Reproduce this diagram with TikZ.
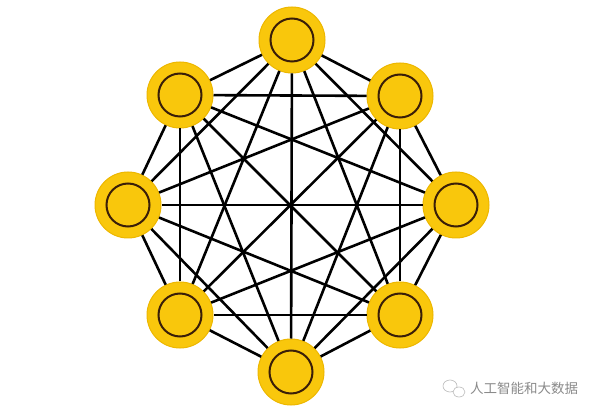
\documentclass[tikz,border=0pt]{standalone}
\usepackage{fontspec}
\newfontfamily\cjk{Noto Sans CJK SC}
\definecolor{gold}{HTML}{F9C70C}
\definecolor{goldedge}{HTML}{EDB700}
\definecolor{ringc}{HTML}{3A1E08}
\definecolor{wm}{HTML}{8A8A8A}
\begin{document}
\begin{tikzpicture}[x=1pt,y=-1pt,
  vertex/.style={circle, minimum size=66pt, inner sep=0pt, fill=gold, draw=goldedge, line width=1pt,
    path picture={\draw[ringc, line width=2pt] (path picture bounding box.center) circle (21.5pt);}},
  edge/.style={black, line width=2.6pt},
  wmtext/.style={text=wm, font=\cjk\fontsize{13.5}{14}\selectfont, inner sep=0pt, anchor=west}]
\useasboundingbox[fill=white] (0,0) rectangle (599,419);
\node[vertex] (n1) at (292,40) {};
\node[vertex] (n2) at (400,96) {};
\node[vertex] (n3) at (456,205) {};
\node[vertex] (n4) at (400,315) {};
\node[vertex] (n5) at (291,372) {};
\node[vertex] (n6) at (180,315) {};
\node[vertex] (n7) at (128,205) {};
\node[vertex] (n8) at (180,95) {};
\foreach \a/\b in {n1/n2,n1/n3,n1/n4,n1/n5,n1/n6,n1/n7,n1/n8,
                   n2/n3,n2/n4,n2/n5,n2/n6,n2/n7,n2/n8,
                   n3/n4,n3/n5,n3/n6,n3/n7,n3/n8,
                   n4/n5,n4/n6,n4/n7,n4/n8,
                   n5/n6,n5/n7,n5/n8,
                   n6/n7,n6/n8,
                   n7/n8}
  \draw[edge] (\a) -- (\b);
% watermark
\draw[wm!60, line width=0.6pt] (450,386) ellipse (7pt and 6pt);
\draw[wm!60, line width=0.6pt, fill=white] (459,392) ellipse (6pt and 5pt);
\node[wmtext] (wmt) at (470,388) {人工智能和大数据};
\end{tikzpicture}
\end{document}
